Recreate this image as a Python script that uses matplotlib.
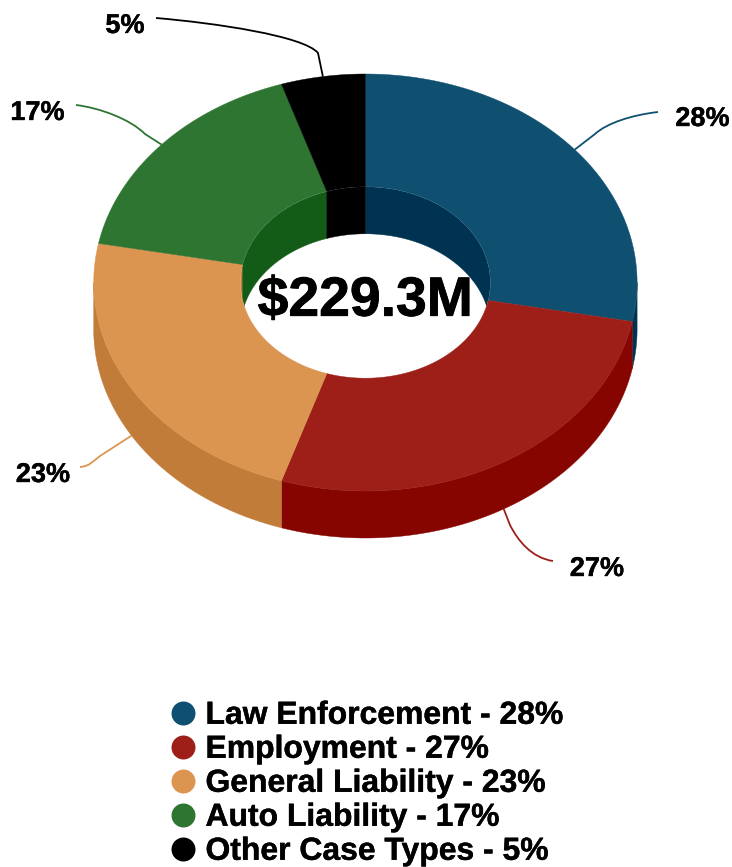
import numpy as np
import matplotlib
matplotlib.use("Agg")
import matplotlib.pyplot as plt
import matplotlib.patheffects as pe
from matplotlib.patches import Ellipse, PathPatch, Polygon
from matplotlib.path import Path

categories = ["Law Enforcement", "Employment", "General Liability", "Auto Liability", "Other Case Types"]
values = [28, 27, 23, 17, 5]
center_label = "$229.3M"

top_colors = ["#0F4F70", "#9D1F18", "#DB9550", "#2E7532", "#000000"]
outer_side_colors = ["#003352", "#870500", "#C17C39", "#135C17", "#000000"]

cx, cy = 365.4, 282.5
rx, ry = 271.7, 208.5
irx, iry = 125, 95.7
depth = 47

plt.rcParams["font.family"] = ["Liberation Sans", "DejaVu Sans"]
plt.rcParams["text.hinting"] = "none"
fig = plt.figure(figsize=(7.32, 8.67), dpi=100)
ax = fig.add_axes([0, 0, 1, 1])
ax.set_xlim(0, 732)
ax.set_ylim(867, 0)
ax.axis("off")

# the reference text is a touch heavier than plain bold
heavy = [pe.withStroke(linewidth=0.3, foreground="black")]


def arc(a, b, w, h, dy=0):
    t = np.radians(np.linspace(a, b, max(int(abs(b - a) * 2), 2)))
    return np.column_stack([cx + w * np.sin(t), cy - h * np.cos(t) + dy])


edges = np.cumsum([0] + values) / sum(values) * 360

# outer wall, only the front half can be seen
for i in range(len(values)):
    a, b = max(edges[i], 90), min(edges[i + 1], 270)
    if a < b:
        pts = np.vstack([arc(a, b, rx, ry), arc(b, a, rx, ry, depth)])
        ax.add_patch(Polygon(pts, fc=outer_side_colors[i], ec=outer_side_colors[i], lw=0.3))

# inner wall, back half of the hole, clipped to the hole
hole = Ellipse((cx, cy), 2 * irx, 2 * iry, fc="none", ec="none")
ax.add_patch(hole)
for i in range(len(values)):
    for lo, hi in [(0, 90), (270, 360)]:
        a, b = max(edges[i], lo), min(edges[i + 1], hi)
        if a < b:
            pts = np.vstack([arc(a, b, irx, iry), arc(b, a, irx, iry, depth)])
            p = Polygon(pts, fc=outer_side_colors[i], ec=outer_side_colors[i], lw=0.3)
            ax.add_patch(p)
            p.set_clip_path(hole)

# top face
for i in range(len(values)):
    a, b = edges[i], edges[i + 1]
    pts = np.vstack([arc(a, b, rx, ry), arc(b, a, irx, iry)])
    ax.add_patch(Polygon(pts, fc=top_colors[i], ec=top_colors[i], lw=0.3))

ax.text(cx - 0.2, 301.5, center_label, fontsize=39.8, fontweight="bold", ha="center", va="center",
        color="black", path_effects=[pe.withStroke(linewidth=0.6, foreground="black")])

# connectors: label end, two control points, break point, then straight to the slice
label_pos = [(702.5, 119), (597, 569), (43, 475), (37.5, 113), (125, 26)]
connectors = [
    [(658, 112), (632, 115), (607, 123), (595, 134)],
    [(553, 561), (532, 558), (518, 541), (510, 525)],
    [(80, 467), (90, 466), (92, 462), (100, 456)],
    [(76, 105), (100, 108), (130, 119), (145, 134)],
    [(156, 18), (215, 23), (304, 36), (318, 53)],
]
for i in range(len(values)):
    mid = (edges[i] + edges[i + 1]) / 2
    tip = arc(mid, mid + 1, rx, ry, depth if 90 < mid < 270 else 0)[0]
    verts = connectors[i] + [tuple(tip)]
    codes = [Path.MOVETO, Path.CURVE4, Path.CURVE4, Path.CURVE4, Path.LINETO]
    ax.add_patch(PathPatch(Path(verts, codes), fc="none", ec=top_colors[i], lw=1.3))
    ax.text(label_pos[i][0], label_pos[i][1], f"{values[i]}%", fontsize=19.5, fontweight="bold",
            ha="center", va="center", color="black", path_effects=heavy)

# legend
legend_y = [713, 747, 781, 815, 849]
for i in range(len(values)):
    ax.scatter([183], [legend_y[i]], s=298, color=top_colors[i], linewidths=0)
    ax.text(205.5, legend_y[i] + 2.5, f"{categories[i]} - {values[i]}%", fontsize=22.95, fontweight="bold",
            ha="left", va="center", color="black", path_effects=heavy)

fig.savefig("out.png", dpi=100)
